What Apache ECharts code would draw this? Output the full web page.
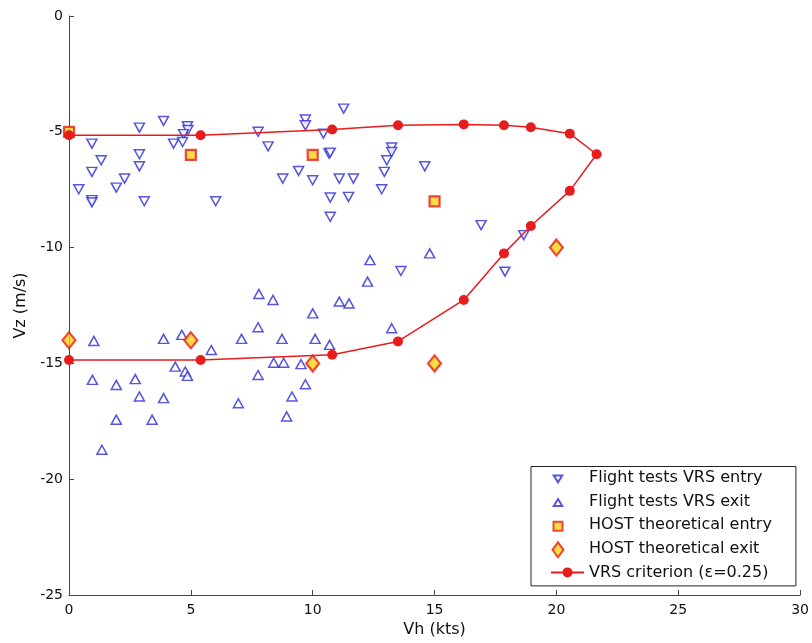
<!DOCTYPE html>
<html>
<head>
<meta charset="utf-8">
<script src="https://cdn.jsdelivr.net/npm/echarts@6/dist/echarts.min.js"></script>
<style>
html,body{margin:0;padding:0;background:#fff;}
#chart{width:812px;height:643px;}
</style>
</head>
<body>
<div id="chart"></div>
<script>
// Data (Vh in kts, Vz in m/s)
var flightEntry = [
  [11.27,-4.0],[3.88,-4.53],[2.89,-4.82],[4.86,-4.76],[4.88,-4.92],[4.7,-5.1],
  [9.7,-4.47],[9.7,-4.72],[7.76,-5.0],[10.44,-5.08],[0.94,-5.51],[4.29,-5.51],
  [4.66,-5.44],[8.17,-5.63],[2.89,-5.97],[2.89,-6.49],[1.32,-6.23],[10.67,-5.94],
  [10.72,-5.9],[13.24,-5.68],[13.24,-5.87],[13.04,-6.23],[12.94,-6.73],[14.6,-6.49],
  [0.94,-6.73],[2.28,-7.02],[1.94,-7.41],[0.4,-7.48],[0.94,-7.95],[0.94,-8.05],
  [3.09,-8.0],[6.02,-8.0],[8.77,-7.02],[9.42,-6.69],[10.0,-7.09],[11.09,-7.02],
  [11.67,-7.02],[10.72,-7.84],[11.47,-7.81],[10.72,-8.67],[12.83,-7.48],
  [16.91,-9.03],[18.66,-9.46],[17.89,-11.04],[13.62,-11.01]
];
var flightExit = [
  [14.8,-10.25],[12.35,-10.54],[12.25,-11.47],[7.79,-12.0],[8.37,-12.26],[11.09,-12.33],
  [11.49,-12.41],[10.0,-12.84],[7.76,-13.44],[7.08,-13.94],[8.74,-13.94],[10.1,-13.94],
  [10.69,-14.2],[13.24,-13.48],[1.02,-14.03],[3.88,-13.94],[4.63,-13.77],[5.84,-14.42],
  [8.4,-14.97],[8.81,-14.97],[9.52,-15.03],[4.36,-15.14],[4.77,-15.35],[4.86,-15.54],
  [0.96,-15.71],[1.94,-15.93],[2.72,-15.68],[7.76,-15.5],[9.7,-15.9],[9.15,-16.43],
  [2.89,-16.43],[3.88,-16.5],[6.95,-16.72],[1.94,-17.43],[3.41,-17.43],[8.93,-17.29],
  [1.35,-18.73]
];
var hostEntry = [[0,-5],[5,-6],[10,-6],[15,-8]];
var hostExit = [[0,-14],[5,-14],[10,-15],[15,-15],[20,-10]];
var vrsCriterion = [
  [0,-5.15],[5.4,-5.15],[10.8,-4.9],[13.5,-4.72],[16.2,-4.68],[17.85,-4.72],
  [18.95,-4.8],[20.55,-5.08],[21.65,-5.97],[20.55,-7.55],[18.95,-9.07],[17.85,-10.25],
  [16.2,-12.26],[13.5,-14.05],[10.8,-14.63],[5.4,-14.85],[0,-14.85]
];
var seriesNames = ['Flight tests VRS entry','Flight tests VRS exit','HOST theoretical entry','HOST theoretical exit','VRS criterion (\u03b5=0.25)'];

var FONT = '"DejaVu Sans", "Liberation Sans", Arial, sans-serif';
var blue = '#2a2ad6';
var red = '#e81c1c';
var yellow = '#ffd21a';

// Legend layout (box + rows)
var LG_LEFT = 531, LG_TOP = 466.5, ROW_H = 16, ROW_GAP = 7.6, ICON_CX = 557;
function rowCenter(k){ return LG_TOP + 3.5 + ROW_H/2 + k*(ROW_H + ROW_GAP); }
var hidden = {opacity: 0, color: 'rgba(0,0,0,0)', borderColor: 'rgba(0,0,0,0)', borderWidth: 0};

// icon-only legends for the scatter series (correct icon sizes)
var iconSpecs = [
  {icon: 'path://M0,0L10,0L5,8Z', w: 8.5, h: 7},
  {icon: 'triangle', w: 8.5, h: 7},
  {icon: 'rect', w: 9, h: 9},
  {icon: 'diamond', w: 11, h: 15}
];
var legends = [{
  orient: 'vertical', left: LG_LEFT, top: LG_TOP,
  backgroundColor: '#fff', borderColor: '#222', borderWidth: 1,
  padding: [3.5, 24, 5.5, 19],
  itemWidth: 33, itemHeight: 12.5, itemGap: ROW_GAP,
  textStyle: {fontFamily: FONT, fontSize: 16, color: '#111'},
  data: seriesNames.map(function(n, i){
    return i < 4 ? {name: n, itemStyle: hidden} : {name: n};
  })
}];
iconSpecs.forEach(function(s, i){
  legends.push({
    orient: 'vertical', z: 10,
    left: ICON_CX - s.w/2, top: rowCenter(i) - s.h/2,
    padding: 0, itemWidth: s.w, itemHeight: s.h, itemGap: 0,
    symbolRotate: 0,
    formatter: function(){ return ''; },
    textStyle: {fontSize: 1},
    data: [{name: seriesNames[i], icon: s.icon}]
  });
});

var chart = echarts.init(document.getElementById('chart'), null, {renderer:'canvas'});
chart.setOption({
  animation: false,
  backgroundColor: '#fff',
  grid: {left: 69, right: 8, top: 16, bottom: 48, containLabel: false},
  xAxis: {
    type: 'value', min: 0, max: 30, interval: 5,
    name: 'Vh (kts)', nameLocation: 'middle', nameGap: 26,
    nameTextStyle: {fontFamily: FONT, fontSize: 16, color: '#111'},
    axisLine: {show: true, onZero: false, lineStyle: {color: '#444', width: 1}},
    axisTick: {show: true, inside: true, length: 5, lineStyle: {color: '#444'}},
    axisLabel: {fontFamily: FONT, fontSize: 14, color: '#111', margin: 8},
    splitLine: {show: false}
  },
  yAxis: {
    type: 'value', min: -25, max: 0, interval: 5,
    name: 'Vz (m/s)', nameLocation: 'middle', nameGap: 39, nameRotate: 90,
    nameTextStyle: {fontFamily: FONT, fontSize: 16, color: '#111'},
    axisLine: {show: true, onZero: false, lineStyle: {color: '#444', width: 1}},
    axisTick: {show: true, inside: true, length: 5, lineStyle: {color: '#444'}},
    axisLabel: {fontFamily: FONT, fontSize: 14, color: '#111', margin: 6},
    splitLine: {show: false}
  },
  legend: legends,
  series: [
    {
      name: seriesNames[0], type: 'scatter', data: flightEntry,
      symbol: 'triangle', symbolRotate: 180, symbolSize: [10, 9],
      itemStyle: {color: '#fff', borderColor: blue, borderWidth: 1.5}
    },
    {
      name: seriesNames[1], type: 'scatter', data: flightExit,
      symbol: 'triangle', symbolSize: [10, 9],
      itemStyle: {color: '#fff', borderColor: blue, borderWidth: 1.5}
    },
    {
      name: seriesNames[2], type: 'scatter', data: hostEntry,
      symbol: 'rect', symbolSize: 10,
      itemStyle: {color: yellow, borderColor: red, borderWidth: 2.2}
    },
    {
      name: seriesNames[3], type: 'scatter', data: hostExit,
      symbol: 'diamond', symbolSize: [13, 16],
      itemStyle: {color: yellow, borderColor: red, borderWidth: 2.2}
    },
    {
      name: seriesNames[4], type: 'line', data: vrsCriterion,
      symbol: 'circle', symbolSize: 10, showSymbol: true,
      lineStyle: {color: red, width: 1.5},
      itemStyle: {color: red, borderWidth: 0}
    }
  ]
});
</script>
</body>
</html>
